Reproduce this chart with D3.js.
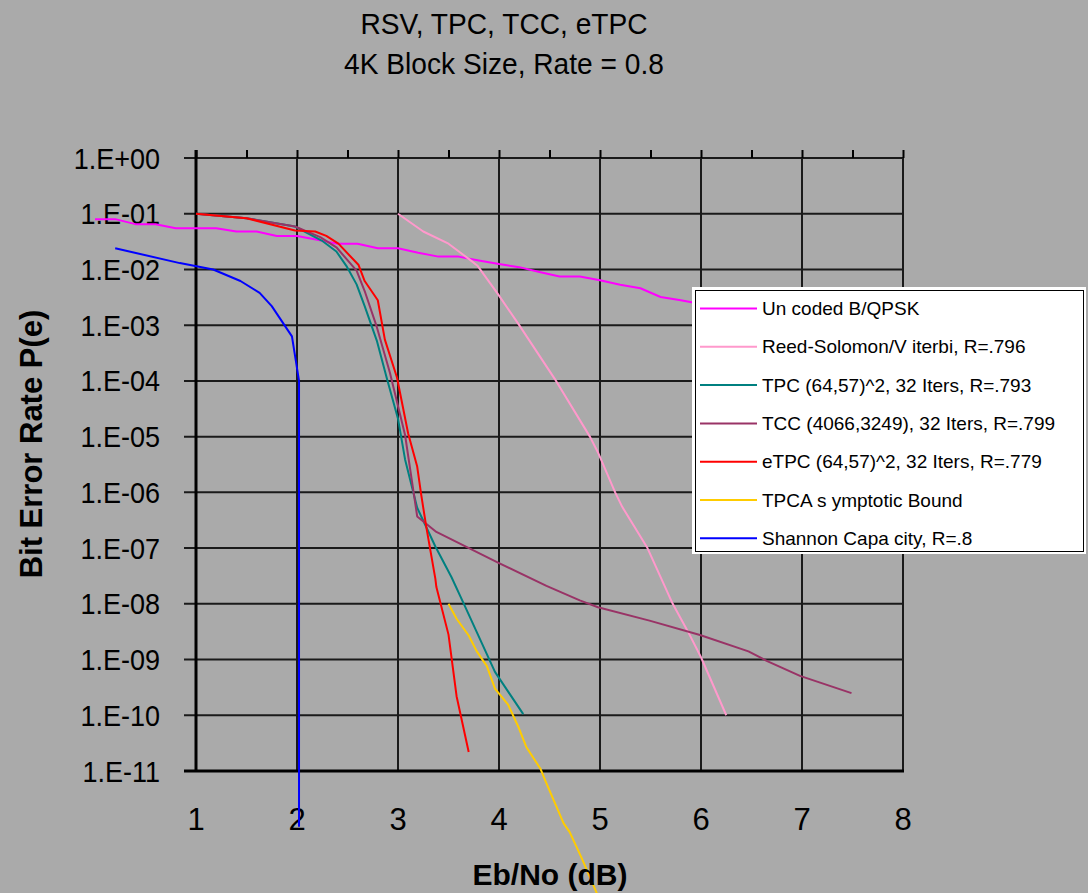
<!DOCTYPE html>
<html>
<head>
<meta charset="utf-8">
<script src="https://cdn.jsdelivr.net/npm/d3@7"></script>
<style>
  html, body { margin: 0; padding: 0; background: #aaaaaa; }
  svg { display: block; font-family: "Liberation Sans", Arial, sans-serif; }
</style>
</head>
<body>
<div id="chart"></div>
<script>
// --- data (Eb/No in dB, BER) ---
const uncodedEbNo = [0.0, 0.2, 0.4, 0.6, 0.8, 1.0, 1.2, 1.4, 1.6, 1.8, 2.0, 2.2, 2.4, 2.6, 2.8, 3.0, 3.2, 3.4, 3.6, 3.8, 4.0, 4.2, 4.4, 4.6, 4.8, 5.0, 5.2, 5.4, 5.6, 5.8, 6.0];
const uncodedBer  = [0.08, 0.08, 0.065, 0.065, 0.055, 0.055, 0.055, 0.048, 0.048, 0.04, 0.04, 0.034, 0.029, 0.029, 0.024, 0.024, 0.02, 0.017, 0.017, 0.0145, 0.0125, 0.011, 0.009, 0.0075, 0.0075, 0.0064, 0.0053, 0.0046, 0.0032, 0.0028, 0.0024];

const rsvEbNo = [3.0, 3.25, 3.5, 3.71, 3.79, 3.99, 4.2, 4.55, 4.9, 4.98, 5.15, 5.22, 5.47, 5.72, 5.87, 6.0, 6.25];
const rsvBer  = [0.1, 0.048, 0.029, 0.015, 0.0115, 0.0036, 1e-3, 1.1e-4, 1e-5, 5.2e-6, 1e-6, 5.5e-7, 1e-7, 1e-8, 3.2e-9, 1.1e-9, 1e-10];

const tpcEbNo = [1.0, 1.5, 1.98, 2.245, 2.39, 2.49, 2.59, 2.67, 2.79, 2.89, 3.0, 3.07, 3.19, 3.37, 3.53, 3.66, 3.96, 4.24];
const tpcBer  = [0.1, 0.083, 0.059, 0.033, 0.021, 0.0115, 0.0054, 0.0022, 5.3e-4, 1.1e-4, 2.1e-5, 3.9e-6, 5.3e-7, 1.07e-7, 3e-8, 9.3e-9, 6e-10, 1.05e-10];

const tccEbNo = [1.0, 1.5, 1.98, 2.23, 2.39, 2.59, 2.67, 2.79, 2.92, 3.07, 3.19, 3.38, 3.99, 4.47, 4.8, 4.98, 5.49, 5.99, 6.47, 6.65, 6.98, 7.49];
const tccBer  = [0.1, 0.083, 0.059, 0.038, 0.025, 0.0095, 0.0041, 9.3e-4, 1.4e-4, 1.07e-5, 3.7e-7, 1.95e-7, 5.5e-8, 2.1e-8, 1.15e-8, 8.7e-9, 5e-9, 2.75e-9, 1.4e-9, 9.5e-10, 5.1e-10, 2.5e-10];

const etpcEbNo = [1.0, 1.5, 1.98, 2.18, 2.29, 2.41, 2.61, 2.67, 2.8, 2.87, 2.99, 3.1, 3.19, 3.23, 3.28, 3.37, 3.38, 3.5, 3.58, 3.7];
const etpcBer  = [0.1, 0.083, 0.05, 0.048, 0.04, 0.029, 0.012, 0.0062, 0.0028, 5.5e-4, 1.15e-4, 1.15e-5, 2.9e-6, 9e-7, 2.4e-7, 2.8e-8, 2e-8, 2.8e-9, 2.2e-10, 2.2e-11];

const boundEbNo = [3.5, 3.58, 3.7, 3.78, 3.88, 3.96, 4.09, 4.19, 4.27, 4.41, 4.47, 4.64, 4.7, 4.82, 4.97];
const boundBer  = [1e-8, 5.4e-9, 2.7e-9, 1.4e-9, 7.6e-10, 3e-10, 1.55e-10, 6.3e-11, 2.7e-11, 1.1e-11, 6e-12, 1.15e-12, 8e-13, 2.7e-13, 6.3e-14];

const shannonEbNo = [0.2, 0.84, 1.17, 1.44, 1.63, 1.75, 1.95, 2.02, 2.02];
const shannonBer  = [0.024, 0.013, 0.01, 0.0062, 0.0038, 0.0022, 6.3e-4, 1e-4, 1e-12];

const seriesNames = [
  "Un coded B/QPSK",
  "Reed-Solomon/V iterbi, R=.796",
  "TPC (64,57)^2, 32 Iters, R=.793",
  "TCC (4066,3249), 32 Iters, R=.799",
  "eTPC (64,57)^2, 32 Iters, R=.779",
  "TPCA s ymptotic Bound",
  "Shannon Capa city, R=.8"
];
const seriesColors = ["#ff00ff", "#ff99cc", "#008080", "#993366", "#ff0000", "#ffcc00", "#0000ff"];

const xTicks = [1, 2, 3, 4, 5, 6, 7, 8];
const yTicks = d3.range(0, 12).map(i => Math.pow(10, -i));

const titleLines = ["RSV, TPC, TCC, eTPC", "4K Block Size, Rate = 0.8"];
const xTitle = "Eb/No (dB)";
const yTitle = "Bit Error Rate P(e)";

// --- build series ---
const xs = [uncodedEbNo, rsvEbNo, tpcEbNo, tccEbNo, etpcEbNo, boundEbNo, shannonEbNo];
const ys = [uncodedBer, rsvBer, tpcBer, tccBer, etpcBer, boundBer, shannonBer];
const series = seriesNames.map((name, i) => ({
  name,
  color: seriesColors[i],
  points: xs[i].map((x, j) => ({ x, y: ys[i][j] }))
}));

const W = 1088, H = 893;
const plot = { left: 196, right: 903, top: 158, bottom: 771 };

const svg = d3.select("#chart").append("svg")
  .attr("width", W)
  .attr("height", H);

svg.append("rect").attr("width", W).attr("height", H).attr("fill", "#aaaaaa");

const x = d3.scaleLinear().domain([1, 8]).range([plot.left, plot.right]);
const y = d3.scaleLog().domain([1, 1e-11]).range([plot.top, plot.bottom]);

// squeeze text horizontally a bit, like the Excel rendering
function condense(sel, k) {
  sel.each(function () {
    const w = this.getComputedTextLength();
    d3.select(this).attr("textLength", w * k).attr("lengthAdjust", "spacingAndGlyphs");
  });
}

// gridlines
svg.append("g")
  .selectAll("line")
  .data(xTicks)
  .join("line")
  .attr("x1", d => x(d)).attr("x2", d => x(d))
  .attr("y1", plot.top).attr("y2", plot.bottom)
  .attr("stroke", "#1a1a1a").attr("stroke-width", 2);

svg.append("g")
  .selectAll("line")
  .data(yTicks)
  .join("line")
  .attr("x1", plot.left - 12).attr("x2", plot.right)
  .attr("y1", d => y(d)).attr("y2", d => y(d))
  .attr("stroke", "#1a1a1a").attr("stroke-width", 2);

// top axis ticks (0.5 step, no labels)
const topAxis = svg.append("g")
  .attr("transform", `translate(0,${plot.top})`)
  .call(d3.axisTop(x).tickValues(d3.range(1, 8.01, 0.5)).tickSize(8).tickFormat(""));
topAxis.select(".domain").remove();
topAxis.selectAll("line").attr("stroke", "#000").attr("stroke-width", 2);

// y axis line and bottom line
svg.append("line")
  .attr("x1", plot.left).attr("x2", plot.left)
  .attr("y1", plot.top - 8).attr("y2", plot.bottom + 1)
  .attr("stroke", "#000").attr("stroke-width", 3);
svg.append("line")
  .attr("x1", plot.left - 12).attr("x2", plot.right + 1)
  .attr("y1", plot.bottom).attr("y2", plot.bottom)
  .attr("stroke", "#000").attr("stroke-width", 3);

// tick labels
const fmt = d => {
  const e = Math.round(Math.log10(d));
  return "1.E" + (e >= 0 ? "+" : "-") + String(Math.abs(e)).padStart(2, "0");
};
svg.append("g")
  .selectAll("text")
  .data(yTicks)
  .join("text")
  .attr("x", plot.left - 36)
  .attr("y", d => y(d))
  .attr("dy", "0.35em")
  .attr("text-anchor", "end")
  .attr("font-size", 30)
  .attr("fill", "#000")
  .text(fmt)
  .call(condense, 0.9);

svg.append("g")
  .selectAll("text")
  .data(xTicks)
  .join("text")
  .attr("x", d => x(d))
  .attr("y", 830)
  .attr("text-anchor", "middle")
  .attr("font-size", 31)
  .attr("fill", "#000")
  .text(d => d);

// series lines (not clipped, as in the reference)
const line = d3.line().x(d => x(d.x)).y(d => y(d.y));
svg.append("g")
  .selectAll("path")
  .data(series)
  .join("path")
  .attr("d", d => line(d.points))
  .attr("fill", "none")
  .attr("stroke", d => d.color)
  .attr("stroke-width", 2)
  .attr("stroke-linejoin", "round");

// titles
svg.append("g")
  .selectAll("text")
  .data(titleLines)
  .join("text")
  .attr("x", 504)
  .attr("y", (d, i) => 34 + i * 40)
  .attr("text-anchor", "middle")
  .attr("font-size", 29)
  .attr("fill", "#000")
  .text(d => d)
  .call(condense, 0.97);

svg.append("text")
  .attr("x", 550).attr("y", 885)
  .attr("text-anchor", "middle")
  .attr("font-size", 30)
  .attr("font-weight", "bold")
  .attr("fill", "#000")
  .text(xTitle);

svg.append("text")
  .attr("transform", "translate(42,444) rotate(-90)")
  .attr("text-anchor", "middle")
  .attr("font-size", 31)
  .attr("font-weight", "bold")
  .attr("fill", "#000")
  .text(yTitle);

// legend
const lg = svg.append("g");
lg.append("rect")
  .attr("x", 692).attr("y", 287).attr("width", 394).attr("height", 267)
  .attr("fill", "#fff");
lg.append("rect")
  .attr("x", 695.5).attr("y", 290.5).attr("width", 388).attr("height", 261)
  .attr("fill", "#fff").attr("stroke", "#000").attr("stroke-width", 1);

const rows = lg.selectAll("g.row")
  .data(series)
  .join("g")
  .attr("class", "row")
  .attr("transform", (d, i) => `translate(0,${308.5 + i * 38.3})`);
rows.append("line")
  .attr("x1", 700).attr("x2", 757)
  .attr("stroke", d => d.color).attr("stroke-width", 2);
rows.append("text")
  .attr("x", 762).attr("y", 6.5)
  .attr("font-size", 19)
  .attr("fill", "#000")
  .text(d => d.name);
</script>
</body>
</html>
